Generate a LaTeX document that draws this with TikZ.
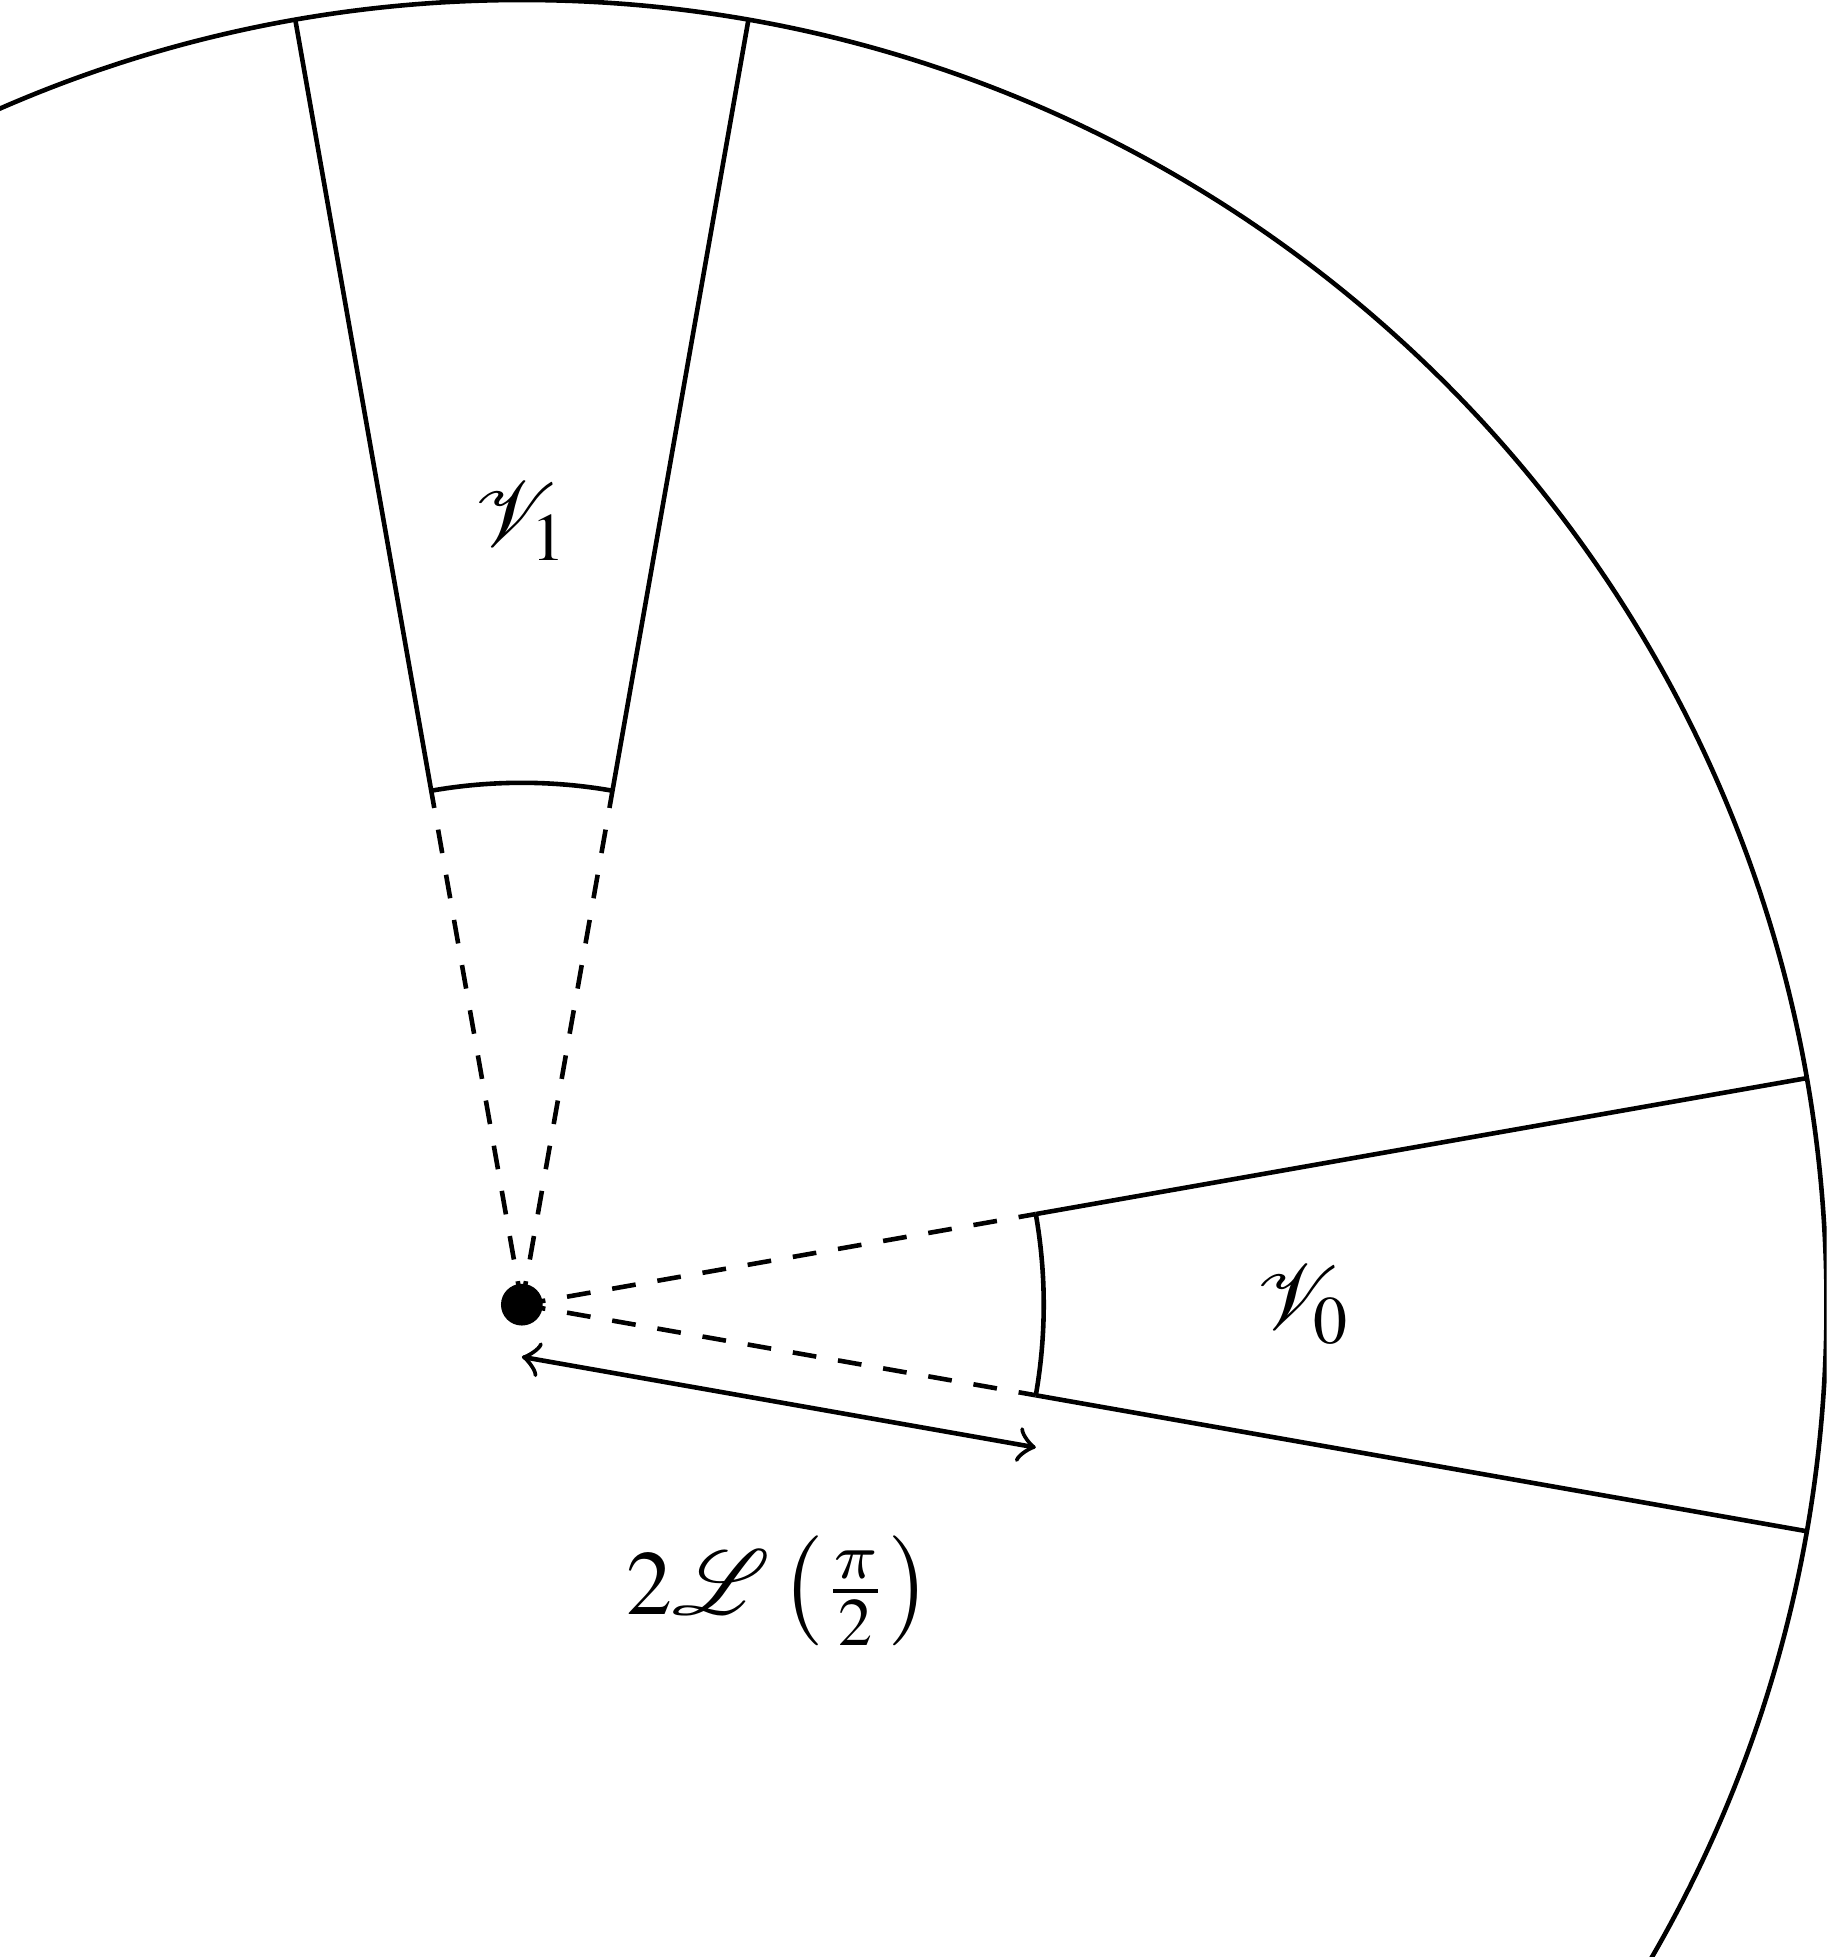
\documentclass[tikz,border=0pt]{standalone}
\usepackage{mathptmx}
\DeclareSymbolFont{cmletters}{OML}{cmm}{m}{it}
\DeclareMathSymbol{\slpi}{\mathord}{cmletters}{"19}
\usetikzlibrary{arrows,positioning}
\tikzset{%
  rim/.style={draw=black,line width=0.5pt},
  ray/.style={draw=black,line width=0.5pt},
  guide/.style={draw=black,line width=0.5pt,dash pattern=on 2.6pt off 2.4pt},
  hub/.style={circle,fill=black,inner sep=0pt,minimum size=0.16cm}%
}
\begin{document}
\begin{tikzpicture}[>=to]
      \useasboundingbox (-2,-2.5) rectangle (5,5);
      \clip (-2,-2.5) rectangle (5,5);

      \coordinate (origin) at (0,0);
      \coordinate (v0_in_a) at (-10:2);
      \coordinate (v0_in_b) at (10:2);
      \coordinate (v0_out_a) at (-10:5);
      \coordinate (v0_out_b) at (10:5);
      \coordinate (v1_in_a) at (80:2);
      \coordinate (v1_in_b) at (100:2);
      \coordinate (v1_out_a) at (80:5);
      \coordinate (v1_out_b) at (100:5);

      \draw[rim] (origin) circle (5);

      \draw[ray] (v0_in_a) -- (v0_out_a) (v0_in_b) -- (v0_out_b);
      \draw[ray] (v0_in_a) arc (-10:10:2);
      \draw[ray] (v1_in_a) -- (v1_out_a) (v1_in_b) -- (v1_out_b);
      \draw[ray] (v1_in_a) arc (80:100:2);

      \draw[guide] (origin) -- (v0_in_a) (origin) -- (v0_in_b);
      \draw[guide] (origin) -- (v1_in_a) (origin) -- (v1_in_b);

      \node (center) [hub] at (origin) {};

      \node (v0_label) at (0:3) {$\mathcal{V}_0$};
      \node (v1_label) at (90:3) {$\mathcal{V}_1$};

      \coordinate (len_a) at (0,-0.2);
      \coordinate (len_b) at ([yshift=-0.2cm]v0_in_a);
      \draw[ray,<->] (len_a) -- coordinate (len_mid) (len_b);
      \node (len_label) [below=0.39cm of len_mid] {$2\mathcal{L}\left(\frac{\slpi}{2}\right)$};
\end{tikzpicture}
\end{document}
